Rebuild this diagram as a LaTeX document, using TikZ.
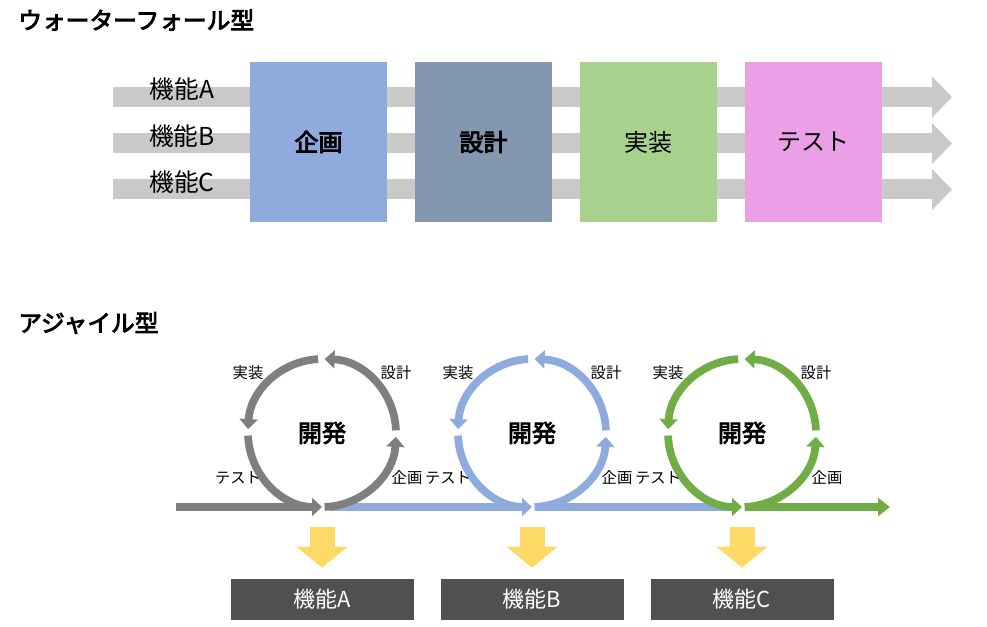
\documentclass[tikz,border=0pt]{standalone}
\usepackage{fontspec}
\setmainfont{Noto Sans CJK JP}[BoldFont={Noto Sans CJK JP},BoldFeatures={FakeBold=3.5}]
\usetikzlibrary{arrows.meta}
\definecolor{cplan}{HTML}{8FAADC}
\definecolor{cdesign}{HTML}{8497B0}
\definecolor{cimpl}{HTML}{A9D18E}
\definecolor{ctest}{HTML}{EA9FE6}
\definecolor{barg}{HTML}{C9C9C9}
\definecolor{cgray}{HTML}{7F7F7F}
\definecolor{cblue}{HTML}{8FAADC}
\definecolor{cgreen}{HTML}{70AD47}
\definecolor{ygold}{HTML}{FFD966}
\definecolor{dgray}{HTML}{505050}
\begin{document}
\begin{tikzpicture}[x=0.75pt,y=0.75pt,
  title/.style={anchor=west,inner sep=0pt,font=\bfseries\fontsize{17.8pt}{20pt}\selectfont},
  bar/.style={draw=barg,line width=15pt,-{Triangle[width=30pt,length=15pt]}},
  stage/.style={minimum width=102.75pt,minimum height=120pt,inner sep=0pt,font=\fontsize{18pt}{20pt}\selectfont},
  flab/.style={inner sep=0pt,font=\fontsize{18.5pt}{20pt}\selectfont},
  ring/.style={line width=5.8pt},
  rtip/.style={-{Triangle[width=13.5pt,length=7.5pt]}},
  clab/.style={inner sep=0pt,font=\fontsize{11.5pt}{13pt}\selectfont},
  dev/.style={inner sep=0pt,font=\bfseries\fontsize{18pt}{20pt}\selectfont},
  flow/.style={line width=6pt},
  yarr/.style={draw=ygold,line width=18.75pt,-{Triangle[width=37.5pt,length=15.75pt]}},
  fbox/.style={fill=dgray,text=white,minimum width=137.25pt,minimum height=30.75pt,inner sep=0pt,font=\fontsize{16.5pt}{18pt}\selectfont}
]
\useasboundingbox (0,0) rectangle (987,627);

% ---------- Waterfall ----------
\node[title] (wtitle) at (18,607) {ウォーターフォール型};

\coordinate (aS) at (113,530); \coordinate (aE) at (952,530);
\coordinate (bS) at (113,483.5); \coordinate (bE) at (952,483.5);
\coordinate (cS) at (113,437.5); \coordinate (cE) at (952,437.5);
\draw[bar] (aS) -- (aE);
\draw[bar] (bS) -- (bE);
\draw[bar] (cS) -- (cE);

\node[flab] (fA) at (182,538) {機能A};
\node[flab] (fB) at (182,491) {機能B};
\node[flab] (fC) at (182,445) {機能C};

\node[stage,fill=cplan,font=\bfseries\fontsize{18pt}{20pt}\selectfont] (plan) at (318.5,485) {企画};
\node[stage,fill=cdesign,font=\bfseries\fontsize{18pt}{20pt}\selectfont] (design) at (483.5,485) {設計};
\node[stage,fill=cimpl] (impl) at (648.5,485) {実装};
\node[stage,fill=ctest] (test) at (813,485) {テスト};

% ---------- Agile ----------
\node[title] (atitle) at (18,304) {アジャイル型};

\coordinate (gstart) at (176,120);
\coordinate (gend) at (890,120);
\foreach \cx/\n in {322/1,532/2,742/3}{
  \coordinate (b\n) at (\cx,120);
}
\draw[flow,draw=cgray] (gstart) -- ([xshift=-6pt]b1);
\draw[flow,draw=cblue] ([xshift=6pt]b1) -- ([xshift=-6pt]b2);
\draw[flow,draw=cblue] ([xshift=4pt]b2) -- ([xshift=-6pt]b3);
\draw[flow,draw=cgreen,-{Triangle[width=13.5pt,length=9pt]}] ([xshift=3pt]b3) -- (gend);

\foreach \cx/\col/\n/\l in {322/cgray/1/A,532/cblue/2/B,742/cgreen/3/C}{
  \node[dev] (dev\n) at (\cx,194) {開発};
  \draw[ring,rtip,draw=\col] ([shift={(272:55.5pt)}]dev\n.center) arc[start angle=272,end angle=357,radius=55.5pt];
  \draw[ring,rtip,draw=\col] ([shift={(2:55.5pt)}]dev\n.center) arc[start angle=2,end angle=88,radius=55.5pt];
  \draw[ring,rtip,draw=\col] ([shift={(93:55.5pt)}]dev\n.center) arc[start angle=93,end angle=177,radius=55.5pt];
  \draw[ring,rtip,draw=\col] ([shift={(182:55.5pt)}]dev\n.center) arc[start angle=182,end angle=270,radius=55.5pt];
  \node[clab] (ji\n) at ({\cx-74},254) {実装};
  \node[clab] (se\n) at ({\cx+74},254) {設計};
  \node[clab] (te\n) at ({\cx-84},149) {テスト};
  \node[clab] (ki\n) at ({\cx+85},149) {企画};
  \coordinate (ytop\n) at (\cx,100);
  \node[fbox] (feat\n) at (\cx,27.5) {機能\l};
  \draw[yarr] (ytop\n) -- ([yshift=8.25pt]feat\n.north);
}
\end{tikzpicture}
\end{document}
